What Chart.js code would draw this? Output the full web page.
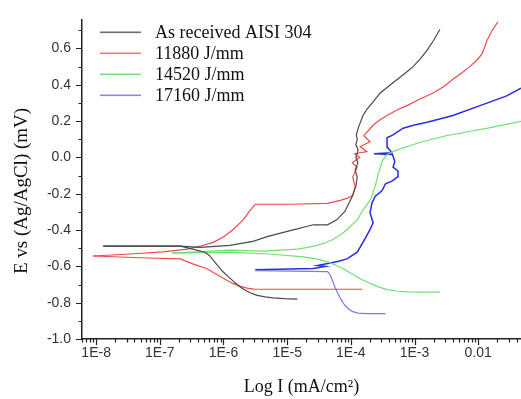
<!DOCTYPE html>
<html><head><meta charset="utf-8">
<script src="https://cdn.jsdelivr.net/npm/chart.js@4/dist/chart.umd.min.js"></script>
<style>html,body{margin:0;padding:0;background:#fff;}#wrap{width:521px;height:399px;}</style>
</head><body><div id="wrap"><canvas id="c" width="521" height="399"></canvas></div>
<script>
// ---- Data (current density in mA/cm², potential in V) ----
const seriesNames = ['As received AISI 304', '11880 J/mm', '14520 J/mm', '17160 J/mm'];
const seriesColors = ['#4a4a4a', '#ee4a4a', '#6fe06f', '#2a2ae0'];
const cathodicColors = ['#4a4a4a', '#ee4a4a', '#6fe06f', '#7a7ae0'];
const legendColors = ['#6a6a6a', '#f07a7a', '#7fe07f', '#8a8ae8'];

const xTickValues = [1e-8, 1e-7, 1e-6, 1e-5, 1e-4, 1e-3, 1e-2];
const xTickLabels = ['1E-8', '1E-7', '1E-6', '1E-5', '1E-4', '1E-3', '0.01'];
const yTickValues = [-1.0, -0.8, -0.6, -0.4, -0.2, 0.0, 0.2, 0.4, 0.6];
const yTickLabels = ['-1.0', '-0.8', '-0.6', '-0.4', '-0.2', '0.0', '0.2', '0.4', '0.6'];

// As received AISI 304
const asRecCathI = [1.29e-8, 2.1e-7, 3.3e-7, 5.1e-7, 6.0e-7, 6.9e-7, 8.3e-7, 9.8e-7, 1.2e-6, 1.41e-6, 1.7e-6, 2.04e-6, 2.6e-6, 3.4e-6, 4.5e-6, 6.0e-6, 9.0e-6, 1.45e-5];
const asRecCathE = [-0.489, -0.489, -0.505, -0.522, -0.54, -0.565, -0.6, -0.63, -0.658, -0.68, -0.705, -0.725, -0.745, -0.76, -0.768, -0.774, -0.778, -0.78];
const asRecAnodI = [1.29e-8, 2.1e-7, 4.3e-7, 1.26e-6, 2.9e-6, 5.0e-6, 1.12e-5, 2.57e-5, 4.3e-5, 6.0e-5, 8.1e-5, 1.05e-4, 1.2e-4, 1.26e-4, 1.17e-4, 1.29e-4, 1.2e-4, 1.3e-4, 1.2e-4, 1.26e-4, 1.22e-4, 1.3e-4, 1.55e-4, 1.75e-4, 2.0e-4, 2.4e-4, 2.9e-4, 4.0e-4, 5.4e-4, 7.2e-4, 9.5e-4, 1.25e-3, 1.58e-3, 2.0e-3, 2.5e-3];
const asRecAnodE = [-0.489, -0.489, -0.495, -0.484, -0.462, -0.435, -0.403, -0.371, -0.371, -0.344, -0.296, -0.215, -0.16, -0.108, -0.07, -0.03, 0.0, 0.04, 0.07, 0.1, 0.124, 0.16, 0.231, 0.26, 0.285, 0.32, 0.355, 0.395, 0.43, 0.465, 0.50, 0.545, 0.591, 0.645, 0.704];

// 11880 J/mm
const r11880CathI = [8.9e-9, 6.3e-8, 2.1e-7, 3.3e-7, 5.5e-7, 8.9e-7, 1.15e-6, 1.41e-6, 1.85e-6, 2.34e-6, 3.0e-6, 3.7e-6, 1.51e-4];
const r11880CathE = [-0.543, -0.554, -0.559, -0.586, -0.613, -0.656, -0.678, -0.694, -0.71, -0.72, -0.725, -0.726, -0.726];
const r11880AnodI = [8.9e-9, 3.4e-8, 1.12e-7, 2.7e-7, 4.3e-7, 6.9e-7, 9.8e-7, 1.41e-6, 2.04e-6, 2.63e-6, 3.16e-6, 1.12e-5, 4.3e-5, 6.8e-5, 8.7e-5, 1.07e-4, 1.17e-4, 1.07e-4, 1.26e-4, 1.05e-4, 1.38e-4, 1.15e-4, 1.78e-4, 1.4e-4, 2.0e-4, 1.6e-4, 2.24e-4, 2.8e-4, 3.7e-4, 5.2e-4, 7.6e-4, 1.2e-3, 1.95e-3, 2.9e-3, 4.0e-3, 5.5e-3, 7.4e-3, 9.5e-3, 1.15e-2, 1.3e-2, 1.38e-2, 1.66e-2, 2.04e-2];
const r11880AnodE = [-0.543, -0.532, -0.52, -0.505, -0.489, -0.468, -0.44, -0.398, -0.344, -0.29, -0.258, -0.258, -0.253, -0.237, -0.226, -0.21, -0.161, -0.108, -0.054, -0.03, 0.0, 0.02, 0.032, 0.06, 0.086, 0.12, 0.177, 0.205, 0.231, 0.26, 0.285, 0.32, 0.355, 0.39, 0.43, 0.465, 0.50, 0.535, 0.57, 0.62, 0.645, 0.70, 0.747];

// 14520 J/mm
const g14520CathI = [1.55e-7, 1.26e-6, 5.4e-6, 1.78e-5, 3.0e-5, 4.3e-5, 6.0e-5, 7.6e-5, 1.0e-4, 1.38e-4, 1.9e-4, 2.57e-4, 3.6e-4, 5.4e-4, 8.0e-4, 1.23e-3, 2.5e-3];
const g14520CathE = [-0.527, -0.522, -0.532, -0.548, -0.56, -0.575, -0.595, -0.613, -0.638, -0.667, -0.69, -0.71, -0.727, -0.737, -0.741, -0.742, -0.742];
const g14520AnodI = [1.55e-7, 1.26e-6, 4.2e-6, 1.45e-5, 2.0e-5, 2.95e-5, 4.0e-5, 5.2e-5, 7.0e-5, 8.7e-5, 1.05e-4, 1.26e-4, 1.55e-4, 2.0e-4, 2.4e-4, 2.7e-4, 3.1e-4, 3.4e-4, 3.7e-4, 4.6e-4, 6.0e-4, 7.6e-4, 1.1e-3, 1.74e-3, 3.0e-3, 6.6e-3, 1.7e-2, 4.7e-2];
const g14520AnodE = [-0.527, -0.511, -0.516, -0.505, -0.497, -0.484, -0.47, -0.452, -0.425, -0.398, -0.37, -0.344, -0.29, -0.237, -0.161, -0.091, -0.022, 0.0, 0.016, 0.032, 0.048, 0.059, 0.078, 0.097, 0.118, 0.14, 0.167, 0.199];

// 17160 J/mm
const b17160CathI = [3.16e-6, 4.3e-5, 4.7e-5, 5.0e-5, 5.5e-5, 6.0e-5, 6.6e-5, 7.2e-5, 8.0e-5, 9.1e-5, 1.05e-4, 1.29e-4, 1.8e-4, 3.5e-4];
const b17160CathE = [-0.624, -0.629, -0.645, -0.667, -0.705, -0.737, -0.765, -0.79, -0.813, -0.833, -0.848, -0.857, -0.86, -0.86];
const b17160AnodI = [3.16e-6, 2.57e-5, 4.0e-5, 3.0e-5, 6.0e-5, 8.7e-5, 1.26e-4, 1.55e-4, 2.0e-4, 2.24e-4, 2.0e-4, 2.14e-4, 2.4e-4, 3.1e-4, 3.5e-4, 4.5e-4, 5.4e-4, 5.5e-4, 4.6e-4, 4.9e-4, 4.5e-4, 2.3e-4, 4.4e-4, 3.8e-4, 3.7e-4, 4.6e-4, 6.6e-4, 1.0e-3, 1.58e-3, 4.0e-3, 1.07e-2, 2.8e-2, 4.7e-2];
const b17160AnodE = [-0.618, -0.612, -0.6, -0.595, -0.575, -0.559, -0.522, -0.468, -0.398, -0.36, -0.306, -0.253, -0.215, -0.183, -0.145, -0.129, -0.108, -0.075, -0.054, -0.022, 0.016, 0.02, 0.025, 0.054, 0.108, 0.124, 0.161, 0.178, 0.194, 0.231, 0.285, 0.339, 0.382];

// ---- Chart ----
function mk(I, E, color, w) {
  return { data: I.map((x, i) => ({ x: x, y: E[i] })), borderColor: color, backgroundColor: color,
    borderWidth: w || 1.2, pointRadius: 0, showLine: true, fill: false, tension: 0 };
}
const datasets = [
  mk(asRecCathI, asRecCathE, cathodicColors[0]), mk(asRecAnodI, asRecAnodE, seriesColors[0]),
  mk(r11880CathI, r11880CathE, cathodicColors[1]), mk(r11880AnodI, r11880AnodE, seriesColors[1]),
  mk(g14520CathI, g14520CathE, cathodicColors[2]), mk(g14520AnodI, g14520AnodE, seriesColors[2]),
  mk(b17160CathI, b17160CathE, cathodicColors[3]), mk(b17160AnodI, b17160AnodE, seriesColors[3], 1.5)
];

const tickPlugin = {
  id: 'minorTicks',
  afterDraw(chart) {
    const ctx = chart.ctx, xs = chart.scales.x, ys = chart.scales.y, a = chart.chartArea;
    ctx.save();
    ctx.strokeStyle = '#222'; ctx.lineWidth = 1.2;
    ctx.beginPath();
    for (let e = -9; e <= -2; e++) {
      for (let m = 1; m <= 9; m++) {
        const v = m * Math.pow(10, e);
        if (v < xs.min || v > xs.max) continue;
        const px = Math.round(xs.getPixelForValue(v)) + 0.5;
        const len = m === 1 ? 6 : 3.5;
        ctx.moveTo(px, a.bottom); ctx.lineTo(px, a.bottom + len);
      }
    }
    for (let k = -10; k <= 7; k++) {
      const v = k / 10;
      const py = Math.round(ys.getPixelForValue(v)) + 0.5;
      const len = (k % 2 === 0) ? 6 : 3.5;
      ctx.moveTo(a.left, py); ctx.lineTo(a.left - len, py);
    }
    ctx.stroke();
    ctx.restore();
    // Y axis title
    ctx.save();
    ctx.fillStyle = '#111';
    ctx.font = '19px "Liberation Serif", "Times New Roman", serif';
    ctx.textAlign = 'center'; ctx.textBaseline = 'middle';
    ctx.translate(22, 191); ctx.rotate(-Math.PI / 2);
    ctx.fillText('E vs (Ag/AgCl) (mV)', 0, 0);
    ctx.restore();
    // Legend
    const ly = [32, 53, 74, 95];
    for (let i = 0; i < seriesNames.length; i++) {
      ctx.save();
      ctx.fillStyle = legendColors[i];
      ctx.fillRect(100, ly[i] - 0.5, 41, 1.6);
      ctx.fillStyle = '#111';
      ctx.font = '18px "Liberation Serif", "Times New Roman", serif';
      ctx.textAlign = 'left'; ctx.textBaseline = 'middle';
      ctx.fillText(seriesNames[i], 155, ly[i] + 1);
      ctx.restore();
    }
  }
};

new Chart(document.getElementById('c'), {
  type: 'scatter',
  data: { datasets: datasets },
  options: {
    responsive: false, animation: false, devicePixelRatio: 1,
    layout: { padding: { top: 12, right: 0, left: 0, bottom: 0 } },
    plugins: { legend: { display: false }, tooltip: { enabled: false } },
    scales: {
      x: {
        type: 'logarithmic', min: 6.0e-9, max: 4.7e-2,
        afterBuildTicks: s => { s.ticks = xTickValues.map(v => ({ value: v })); },
        afterFit: s => { s.height = 60; },
        ticks: { autoSkip: false, maxRotation: 0, padding: 6, color: '#333',
          font: { family: '"Liberation Sans", Arial, sans-serif', size: 14 },
          callback: (v) => { const i = xTickValues.findIndex(t => Math.abs(t - v) / t < 1e-6); return i >= 0 ? xTickLabels[i] : ''; } },
        grid: { display: false, drawTicks: false },
        border: { display: true, color: '#222', width: 1.5 },
        title: { display: true, text: 'Log I (mA/cm²)', color: '#111',
          font: { family: '"Liberation Serif", "Times New Roman", serif', size: 18 }, padding: { top: 0, bottom: 1 } }
      },
      y: {
        min: -1.0, max: 0.76,
        afterBuildTicks: s => { s.ticks = yTickValues.map(v => ({ value: v })); },
        afterFit: s => { s.width = 82; },
        ticks: { padding: 11, color: '#333',
          font: { family: '"Liberation Sans", Arial, sans-serif', size: 14 },
          callback: (v) => { const i = yTickValues.findIndex(t => Math.abs(t - v) < 1e-6); return i >= 0 ? yTickLabels[i] : ''; } },
        grid: { display: false, drawTicks: false },
        border: { display: true, color: '#222', width: 1.5 }
      }
    }
  },
  plugins: [tickPlugin]
});
</script>
</body></html>
